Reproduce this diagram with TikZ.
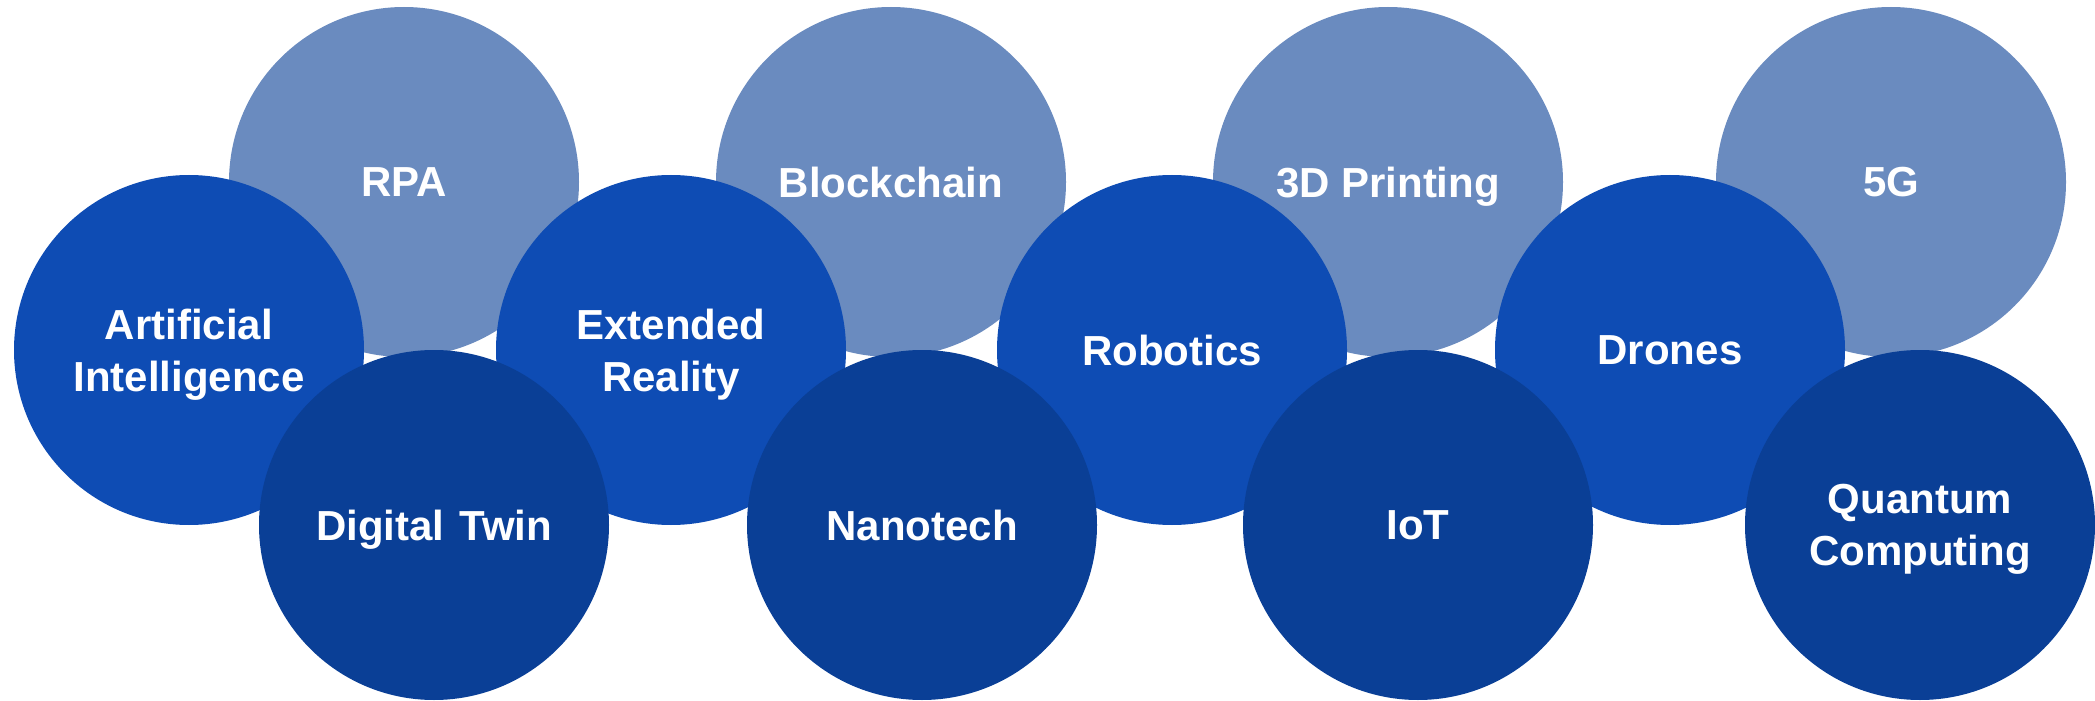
\documentclass[tikz,border=0pt]{standalone}
\usepackage{fontspec}
\setmainfont{Liberation Sans}
\definecolor{bubbleLight}{HTML}{6A8BBF}
\definecolor{bubbleMid}{HTML}{0E4CB4}
\definecolor{bubbleDark}{HTML}{0A3F96}
\begin{document}
\begin{tikzpicture}[x=0.5pt,y=-0.5pt,
  bubble/.style={circle, minimum size=175pt, inner sep=0pt, draw=none,
    text=white, align=center, text depth=-3pt,
    font=\bfseries\fontsize{21}{26}\selectfont},
  lightbubble/.style={bubble, fill=bubbleLight},
  midbubble/.style={bubble, fill=bubbleMid},
  darkbubble/.style={bubble, fill=bubbleDark}]
\useasboundingbox (0,0) rectangle (2095,701);
% back row
\node[lightbubble] (rpa)   at (404,182)  {RPA};
\node[lightbubble] (block) at (891,182)  {Blockchain};
\node[lightbubble] (print) at (1388,182) {3D Printing};
\node[lightbubble] (fiveg) at (1891,182) {5G};
% middle row
\node[midbubble] (ai)    at (189,350)  {Artificial\\Intelligence};
\node[midbubble] (xr)    at (671,350)  {Extended\\Reality};
\node[midbubble] (robot) at (1172,350) {Robotics};
\node[midbubble] (drone) at (1670,350) {Drones};
% front row
\node[darkbubble] (twin)  at (434,525)  {Digital\hspace{0.36em}Twin};
\node[darkbubble] (nano)  at (922,525)  {Nanotech};
\node[darkbubble] (iot)   at (1418,525) {IoT};
\node[darkbubble] (quant) at (1920,525) {Quantum\\Computing};
\end{tikzpicture}
\end{document}
